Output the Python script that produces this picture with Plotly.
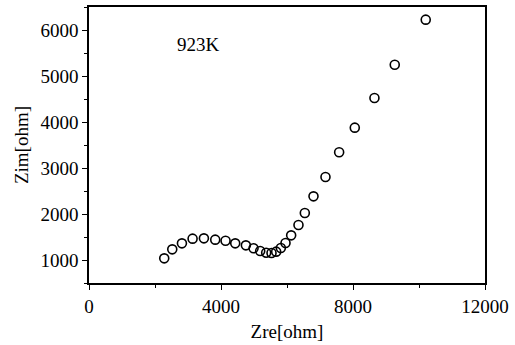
import plotly.graph_objects as go

zre = [2280, 2523, 2816, 3139, 3482, 3825, 4138, 4431, 4754, 4986, 5188, 5369, 5531,
       5672, 5813, 5955, 6126, 6348, 6540, 6803, 7166, 7580, 8054, 8650, 9265, 10204]
zim = [1036, 1232, 1362, 1464, 1471, 1442, 1420, 1362, 1319, 1254, 1196, 1159, 1152,
       1181, 1261, 1370, 1536, 1761, 2022, 2384, 2804, 3341, 3877, 4522, 5246, 6225]

x_ticks = [0, 4000, 8000, 12000]
y_ticks = [1000, 2000, 3000, 4000, 5000, 6000]

font = "Liberation Serif"

fig = go.Figure()
fig.add_trace(go.Scatter(
    x=zre, y=zim, mode="markers",
    marker=dict(symbol="circle-open", size=9, color="black", line=dict(width=1.6, color="black")),
    showlegend=False,
))
fig.add_annotation(x=3330, y=5680, text="923K", showarrow=False,
                   font=dict(family=font, size=19, color="black"))

axis_common = dict(
    showline=True, linecolor="black", linewidth=1.5, mirror=True, automargin=False,
    showgrid=False, zeroline=False, ticks="outside", ticklen=5, tickwidth=1.2,
    tickcolor="black", tickfont=dict(family=font, size=19, color="black"),
)
fig.update_xaxes(range=[0, 12000], tickvals=x_ticks, ticktext=[str(v) for v in x_ticks],
                 minor=dict(dtick=2000, ticks="outside", ticklen=3, tickcolor="black", tickwidth=1.2),
                 title=dict(text="Zre[ohm]", font=dict(family=font, size=19, color="black"), standoff=9),
                 **axis_common)
fig.update_yaxes(range=[500, 6500], tickvals=y_ticks, ticktext=[str(v) for v in y_ticks],
                 minor=dict(dtick=500, ticks="outside", ticklen=3, tickcolor="black", tickwidth=1.2),
                 title=dict(text="Zim[ohm]", font=dict(family=font, size=19, color="black"), standoff=7),
                 **axis_common)
fig.update_layout(width=515, height=345, margin=dict(l=89, r=30, t=7, b=62),
                  plot_bgcolor="white", paper_bgcolor="white")
fig.write_html("out.html", config={"displayModeBar": False},
               post_script="document.body.style.margin='0';")
